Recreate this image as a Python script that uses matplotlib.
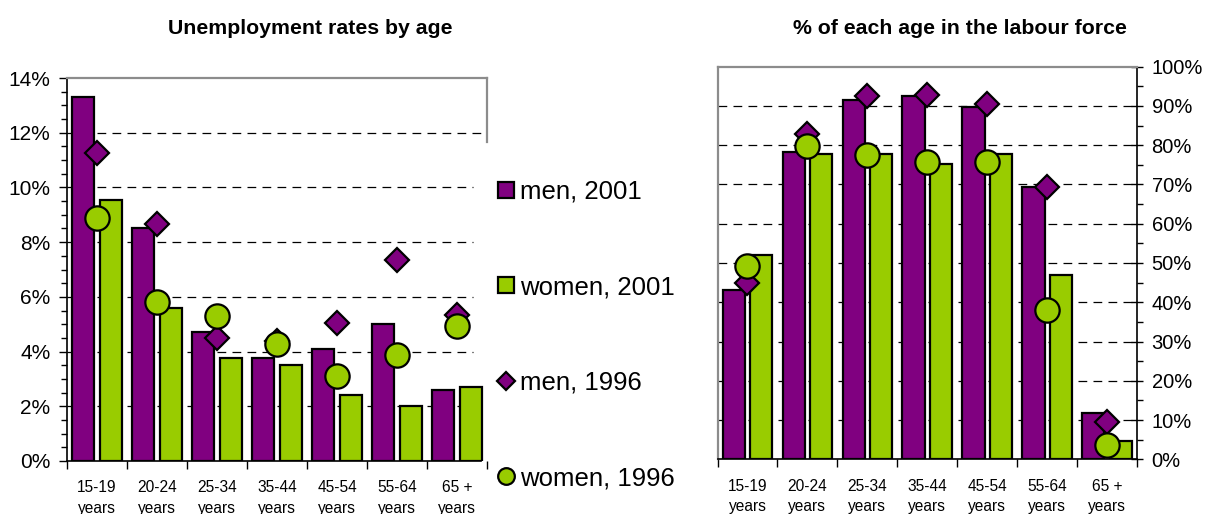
import matplotlib
matplotlib.use('Agg')
import matplotlib.pyplot as plt
from matplotlib.lines import Line2D
from matplotlib.ticker import MultipleLocator, FuncFormatter
import numpy as np

plt.rcParams['font.family'] = ['Liberation Sans', 'DejaVu Sans']

ages = ['15-19\nyears', '20-24\nyears', '25-34\nyears', '35-44\nyears',
        '45-54\nyears', '55-64\nyears', '65 +\nyears']

# unemployment rates (%)
unemp_men_2001 = [13.3, 8.5, 4.7, 3.77, 4.09, 5.0, 2.61]
unemp_women_2001 = [9.53, 5.6, 3.78, 3.52, 2.42, 2.02, 2.69]
unemp_men_1996 = [11.27, 8.67, 4.51, 4.4, 5.05, 7.33, 5.35]
unemp_women_1996 = [8.9, 5.81, 5.31, 4.29, 3.11, 3.86, 4.95]

# share of each age group in the labour force (%)
lf_men_2001 = [43.2, 78.4, 91.6, 92.5, 89.8, 69.3, 11.8]
lf_women_2001 = [52.0, 77.7, 77.7, 75.3, 77.7, 46.9, 4.6]
lf_men_1996 = [44.9, 82.8, 92.6, 92.8, 90.5, 69.3, 9.4]
lf_women_1996 = [49.3, 79.7, 77.4, 75.6, 75.6, 38.1, 3.6]

labels = ['men, 2001', 'women, 2001', 'men, 1996', 'women, 1996']

PURPLE = '#800080'
GREEN = '#99CC00'
GREY = '#8c8c8c'

W, H = 1208, 514
fig = plt.figure(figsize=(W / 100, H / 100), dpi=100)

ax1 = fig.add_axes([67 / W, 1 - 461 / H, 420 / W, 383 / H])
ax2 = fig.add_axes([717.5 / W, 1 - 459.3 / H, 419.5 / W, 392.6 / H])

x = np.arange(len(ages))
bw = 0.37
off = 0.228
pct = FuncFormatter(lambda v, p: '%d%%' % round(v))


def draw_panel(ax, men01, wom01, men96, wom96):
    ax.bar(x - off, men01, bw, color=PURPLE, edgecolor='black', linewidth=1.6, zorder=3)
    ax.bar(x + off, wom01, bw, color=GREEN, edgecolor='black', linewidth=1.6, zorder=3)
    ax.plot(x, men96, linestyle='none', marker='D', ms=12, mfc=PURPLE,
            mec='black', mew=1.6, zorder=4, clip_on=False)
    ax.plot(x, wom96, linestyle='none', marker='o', ms=17.5, mfc=GREEN,
            mec='black', mew=1.6, zorder=5, clip_on=False)
    ax.set_xlim(-0.5, len(ages) - 0.5)
    ax.set_xticks(x)
    ax.set_xticklabels(ages, fontsize=11.2, linespacing=1.45)
    ax.set_xticks(np.arange(len(ages) + 1) - 0.5, minor=True)
    ax.tick_params(axis='x', which='major', length=0, pad=14)
    ax.tick_params(axis='x', which='minor', length=6, width=1, direction='out')
    ax.yaxis.set_major_formatter(pct)


# --- left: unemployment rates
draw_panel(ax1, unemp_men_2001, unemp_women_2001, unemp_men_1996, unemp_women_1996)
ax1.set_ylim(0, 14)
ax1.yaxis.set_major_locator(MultipleLocator(2))
ax1.yaxis.set_minor_locator(MultipleLocator(0.5))
ax1.tick_params(axis='y', which='major', length=6, width=1, labelsize=15, pad=6)
ax1.tick_params(axis='y', which='minor', length=4, width=1)
for v in [2, 4, 6, 8, 10, 12]:
    ax1.axhline(v, xmax=1 if v == 12 else 0.967, color='black', lw=0.9,
                dashes=(7, 5), zorder=1)
for s in ['top', 'right']:
    ax1.spines[s].set_color(GREY)
    ax1.spines[s].set_linewidth(1.6)
ax1.spines['right'].set_bounds(11.66, 14)
ax1.spines['bottom'].set_bounds(-0.5, 6.4)
ax1.spines['left'].set_linewidth(1.2)
ax1.spines['bottom'].set_linewidth(1.2)

# --- right: labour force participation
draw_panel(ax2, lf_men_2001, lf_women_2001, lf_men_1996, lf_women_1996)
ax2.set_ylim(0, 100)
ax2.yaxis.tick_right()
ax2.yaxis.set_major_locator(MultipleLocator(10))
ax2.yaxis.set_minor_locator(MultipleLocator(5))
ax2.tick_params(axis='y', which='major', direction='inout', length=9, width=1,
                labelsize=14.5, pad=6)
ax2.tick_params(axis='y', which='minor', length=4, width=1)
for v in range(10, 100, 10):
    ax2.axhline(v, color='black', lw=0.9, dashes=(7, 5), zorder=1)
for s in ['top', 'left']:
    ax2.spines[s].set_color(GREY)
    ax2.spines[s].set_linewidth(1.6)
ax2.spines['right'].set_linewidth(1.2)
ax2.spines['bottom'].set_linewidth(1.2)

# titles
fig.text(310 / W, 1 - 28 / H, 'Unemployment rates by age', ha='center', va='center',
         fontsize=15.3, fontweight='bold')
fig.text(960 / W, 1 - 29 / H, '% of each age in the labour force', ha='center',
         va='center', fontsize=15.3, fontweight='bold')

# legend between the panels
handles = [
    Line2D([], [], ls='none', marker='s', ms=12, mfc=PURPLE, mec='black', mew=1.6),
    Line2D([], [], ls='none', marker='s', ms=12, mfc=GREEN, mec='black', mew=1.6),
    Line2D([], [], ls='none', marker='D', ms=9.5, mfc=PURPLE, mec='black', mew=1.6),
    Line2D([], [], ls='none', marker='o', ms=12, mfc=GREEN, mec='black', mew=1.6),
]
fig.legend(handles, labels, loc='upper left', bbox_to_anchor=(496 / W, 1 - 180 / H),
           frameon=False, fontsize=18.5, handlelength=0.75, handletextpad=0.2,
           labelspacing=2.78, borderpad=0, borderaxespad=0)

fig.savefig('out.png', dpi=100)
